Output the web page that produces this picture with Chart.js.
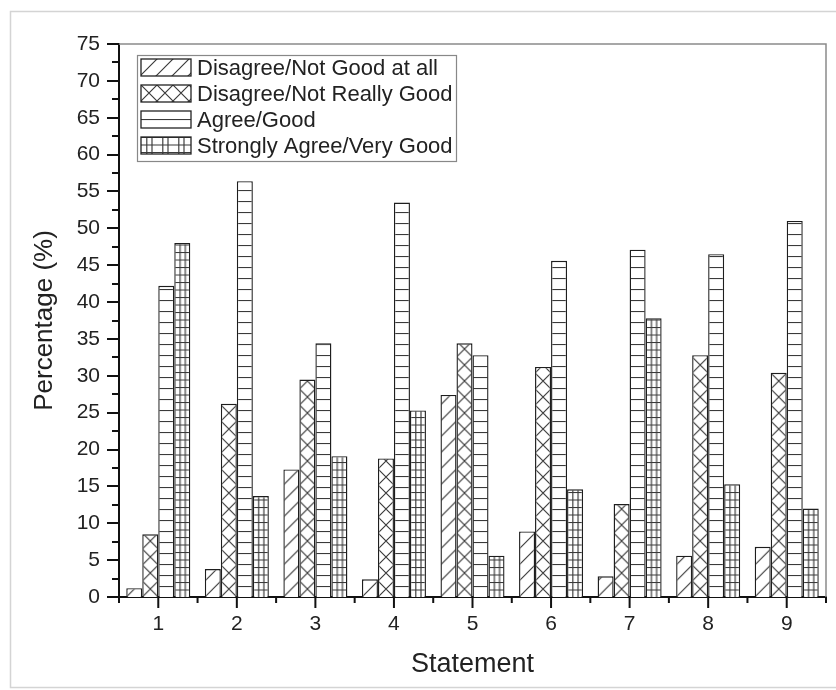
<!DOCTYPE html>
<html>
<head>
<meta charset="utf-8">
<script src="https://cdn.jsdelivr.net/npm/chart.js@4.4.1/dist/chart.umd.min.js"></script>
<style>
  html, body { margin: 0; padding: 0; background: #fff; }
</style>
</head>
<body>
<canvas id="grafico" width="836" height="690"></canvas>
<script>
// datos
const statements = ["1", "2", "3", "4", "5", "6", "7", "8", "9"]
const seriesNames = [
  "Disagree/Not Good at all",
  "Disagree/Not Really Good",
  "Agree/Good",
  "Strongly Agree/Very Good",
]
const notGoodAtAll = [1.2, 3.8, 17.3, 2.4, 27.4, 8.9, 2.8, 5.6, 6.8]
const notReallyGood = [8.5, 26.2, 29.5, 18.8, 34.4, 31.2, 12.6, 32.8, 30.4]
const agreeGood = [42.2, 56.4, 34.4, 53.5, 32.8, 45.6, 47.1, 46.5, 51.0]
const veryGood = [48.0, 13.7, 19.1, 25.3, 5.6, 14.6, 37.8, 15.3, 12.0]
const yMin = 0
const yMax = 75
const yStep = 5

const FONT = "'Liberation Sans', Arial, sans-serif"
const INK = "#222"
const CAT_PCT = 0.815

// Tramas (hatch) para cada serie
function makeTile(kind) {
  var c = document.createElement("canvas")
  var w = 16, h = 16
  if (kind === "hline") { w = 4; h = 11 }
  if (kind === "grid") { w = 16; h = 15 }
  c.width = w
  c.height = h
  var g = c.getContext("2d")
  g.fillStyle = "#fff"
  g.fillRect(0, 0, w, h)
  g.strokeStyle = "#3a3a3a"
  g.lineWidth = 1.15
  g.beginPath()
  if (kind === "slash" || kind === "cross") {
    g.moveTo(-2, h + 2); g.lineTo(w + 2, -2)
    g.moveTo(-2, 2); g.lineTo(2, -2)
    g.moveTo(w - 2, h + 2); g.lineTo(w + 2, h - 2)
  }
  if (kind === "cross") {
    g.moveTo(-2, -2); g.lineTo(w + 2, h + 2)
    g.moveTo(w - 2, -2); g.lineTo(w + 2, 2)
    g.moveTo(-2, h - 2); g.lineTo(2, h + 2)
  }
  if (kind === "hline") {
    g.moveTo(0, 0.5); g.lineTo(w, 0.5)
  }
  if (kind === "grid") {
    g.moveTo(0, 0.5); g.lineTo(w, 0.5)
    g.moveTo(0, 8); g.lineTo(w, 8)
    g.moveTo(5.8, 0); g.lineTo(5.8, h)
    g.moveTo(11, 0); g.lineTo(11, h)
  }
  g.stroke()
  return c
}

var tiles = {
  slash: makeTile("slash"),
  cross: makeTile("cross"),
  hline: makeTile("hline"),
  grid: makeTile("grid"),
}
var kinds = ["slash", "cross", "hline", "grid"]

function patternAt(ctx2d, kind, x0, y0) {
  var p = ctx2d.createPattern(tiles[kind], "repeat")
  p.setTransform(new DOMMatrix().translate(x0, y0))
  return p
}

// relleno alineado con el borde izquierdo de cada barra
function barFill(kind) {
  return function (ctx) {
    var chart = ctx.chart
    var xs = chart.scales.x
    var ys = chart.scales.y
    if (!xs || !ys || !chart.chartArea) return "#fff"
    var catW = (xs.right - xs.left) / statements.length
    var bw = (catW * CAT_PCT) / seriesNames.length
    var center = xs.getPixelForValue(ctx.dataIndex)
    var left = center - (bw * seriesNames.length) / 2 + ctx.datasetIndex * bw
    return patternAt(chart.ctx, kind, left, ys.getPixelForValue(0))
  }
}

var valores = [notGoodAtAll, notReallyGood, agreeGood, veryGood]

var decoraciones = {
  id: "decoraciones",
  afterDraw(chart) {
    var c = chart.ctx
    var a = chart.chartArea
    var xs = chart.scales.x
    var ys = chart.scales.y
    c.save()

    // marco exterior de la imagen
    c.strokeStyle = "#d4d4d4"
    c.lineWidth = 1.5
    c.strokeRect(10.5, 11.5, 840, 676)

    // marco superior y derecho
    c.strokeStyle = "#8a8a8a"
    c.lineWidth = 1.5
    c.beginPath()
    c.moveTo(a.left, a.top)
    c.lineTo(a.right, a.top)
    c.lineTo(a.right, a.bottom)
    c.stroke()

    // marcas del eje y
    c.strokeStyle = "#111"
    c.lineWidth = 2
    c.beginPath()
    for (var v = yMin; v <= yMax + 0.01; v += yStep / 2) {
      var y = Math.round(ys.getPixelForValue(v))
      var len = Math.abs(v % yStep) < 0.01 ? 12 : 7
      c.moveTo(a.left, y)
      c.lineTo(a.left - len, y)
    }
    // marcas del eje x
    for (var i = 0; i < statements.length; i++) {
      var x = xs.getPixelForValue(i)
      c.moveTo(x, a.bottom)
      c.lineTo(x, a.bottom + 11)
    }
    for (var j = 0; j <= statements.length; j++) {
      var xb = j === 0 ? a.left : j === statements.length ? a.right
        : (xs.getPixelForValue(j - 1) + xs.getPixelForValue(j)) / 2
      c.moveTo(xb, a.bottom)
      c.lineTo(xb, a.bottom + 6)
    }
    c.stroke()

    // leyenda dentro del area
    var lx = 137, ly = 55
    c.fillStyle = "#fff"
    c.fillRect(lx, ly, 319, 106)
    c.strokeStyle = "#888"
    c.lineWidth = 1.2
    c.strokeRect(lx + 0.5, ly + 0.5, 319, 106)
    c.font = "22px " + FONT
    c.textBaseline = "middle"
    chart.data.datasets.forEach(function (ds, k) {
      var sx = 141, sy = 59 + k * 26
      c.fillStyle = patternAt(c, kinds[k], sx, kinds[k] === "hline" ? sy + 8 : sy)
      c.fillRect(sx, sy, 50, 17)
      c.strokeStyle = "#222"
      c.lineWidth = 1.3
      c.strokeRect(sx, sy, 50, 17)
      c.fillStyle = INK
      c.fillText(ds.label, 197, sy + 9.5)
    })
    c.restore()
  },
}

new Chart(document.getElementById("grafico").getContext("2d"), {
  type: "bar",
  data: {
    labels: statements,
    datasets: seriesNames.map(function (name, k) {
      return {
        label: name,
        data: valores[k],
        backgroundColor: barFill(kinds[k]),
        borderColor: "#1e1e1e",
        borderWidth: 1.4,
        categoryPercentage: CAT_PCT,
        barPercentage: 1,
      }
    }),
  },
  options: {
    responsive: false,
    animation: false,
    events: [],
    layout: { padding: { left: 0, top: 44, right: 10, bottom: 0 } },
    scales: {
      x: {
        grid: { display: false, drawTicks: false },
        border: { display: true, color: "#111", width: 2 },
        ticks: { color: INK, font: { size: 21, family: FONT }, padding: 15 },
        title: {
          display: true,
          text: "Statement",
          color: INK,
          font: { size: 27, family: FONT },
          padding: { top: 0, bottom: 9 },
        },
        afterFit: function (s) { s.height = 93 },
      },
      y: {
        min: yMin,
        max: yMax,
        grid: { display: false, drawTicks: false },
        border: { display: true, color: "#111", width: 2 },
        ticks: { stepSize: yStep, color: INK, font: { size: 21, family: FONT }, padding: 19 },
        title: {
          display: true,
          text: "Percentage (%)",
          color: INK,
          font: { size: 26, family: FONT },
          padding: { top: 29, bottom: 0 },
        },
        afterFit: function (s) { s.width = 119 },
      },
    },
    plugins: {
      legend: { display: false },
      tooltip: { enabled: false },
    },
  },
  plugins: [decoraciones],
})
</script>
</body>
</html>
